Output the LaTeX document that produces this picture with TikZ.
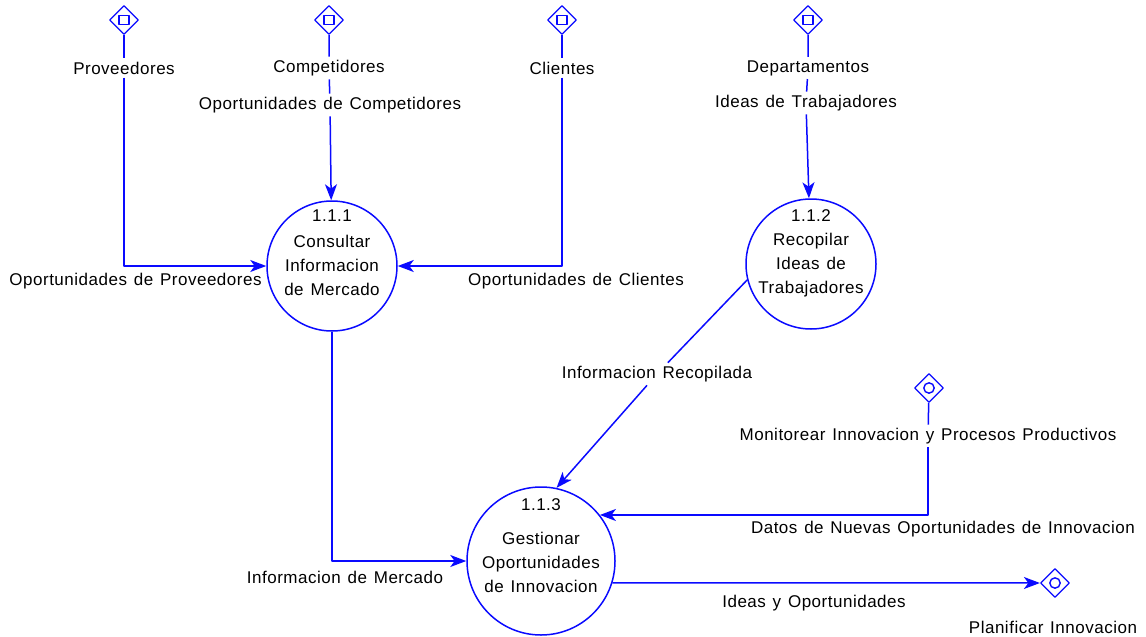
\documentclass[tikz,border=0pt]{standalone}
\usepackage{fontspec}
\setmainfont[WordSpace=1.3,LetterSpace=3]{Liberation Sans}
\usetikzlibrary{shapes.geometric,arrows.meta}
\definecolor{azul}{RGB}{10,10,255}
\begin{document}
\begin{tikzpicture}[x=0.5pt,y=-0.5pt,line join=round,
	font=\fontsize{8.5}{12}\selectfont,
	linea/.style={draw=azul,line width=0.75pt},
	flujo/.style={linea,-{Stealth[length=8pt,width=6pt,inset=2.2pt]}},
	proceso/.style={circle,draw=azul,line width=0.75pt,minimum size=65pt,inner sep=0pt},
	externo/.style={diamond,draw=azul,line width=0.6pt,minimum width=14.5pt,minimum height=14.5pt,inner sep=0pt},
	extcuadro/.style={externo,path picture={\draw[azul,line width=0.7pt] (path picture bounding box.center) ++(-2.5pt,-2.3pt) rectangle ++(5pt,4.6pt);}},
	extcirculo/.style={externo,path picture={\draw[azul,line width=0.7pt] (path picture bounding box.center) circle (2.6pt);}},
	etiq/.style={inner sep=1.5pt,align=center}]
	\useasboundingbox (0,0) rectangle (1146,637);
	\node[proceso] (p111) at (332,266) {};
	\node[proceso] (p112) at (811,264) {};
	\node[proceso,minimum size=74pt] (p113) at (541,561) {};
	\node[etiq] (n111) at (332,216) {1.1.1};
	\node[etiq] (t111) at (332,265) {Consultar\\Informacion\\de Mercado};
	\node[etiq] (n112) at (811,216) {1.1.2};
	\node[etiq] (t112) at (811,265) {Recopilar\\Ideas de\\Trabajadores};
	\node[etiq] (n113) at (541,505) {1.1.3};
	\node[etiq] (t113) at (541,562) {Gestionar\\Oportunidades\\de Innovacion};
	\node[extcuadro] (dProv) at (124,20) {};
	\node[extcuadro] (dComp) at (329,20) {};
	\node[extcuadro] (dCli) at (562,20) {};
	\node[extcuadro] (dDep) at (808,20) {};
	\node[extcirculo] (dMon) at (929,388) {};
	\node[extcirculo] (dPlan) at (1055,583) {};
	\node[etiq] (lProv) at (124,68) {Proveedores};
	\node[etiq] (lComp) at (329,68) {Competidores};
	\node[etiq] (lCli) at (562,68) {Clientes};
	\node[etiq] (lDep) at (808,68) {Departamentos};
	\node[etiq] (lMon) at (928,436) {Monitorear Innovacion y Procesos Productivos};
	\node[etiq] (lPlan) at (1053,627) {Planificar Innovacion};
	\node[etiq] (fComp) at (330,105) {Oportunidades de Competidores};
	\node[etiq] (fDep) at (806,103) {Ideas de Trabajadores};
	\node[etiq] (fRec) at (657,374) {Informacion Recopilada};
	\node[etiq,anchor=east] (fProv) at (265,281) {Oportunidades de Proveedores};
	\node[etiq] (fCli) at (576,281) {Oportunidades de Clientes};
	\node[etiq] (fMer) at (345,577) {Informacion de Mercado};
	\node[etiq] (fMon) at (943,529) {Datos de Nuevas Oportunidades de Innovacion};
	\node[etiq] (fIdeas) at (814,603) {Ideas y Oportunidades};
	\draw[linea] (dProv)--(lProv);
	\draw[linea] (dComp)--(lComp)--(fComp);
	\draw[linea] (dCli)--(lCli);
	\draw[linea] (dDep)--(lDep)--(fDep);
	\draw[linea] (dMon)--(lMon);
	\draw[flujo] (lProv) |- (p111);
	\draw[flujo] (fComp)--(p111);
	\draw[flujo] (lCli) |- (p111);
	\draw[flujo] (fDep)--(p112);
	\draw[linea] (p112.194)--(fRec);
	\draw[flujo] (fRec)--(p113.78);
	\draw[flujo] (p111) |- (p113);
	\draw[flujo] (lMon) |- (p113.38);
	\draw[flujo] (p113.-17)--(dPlan);
\end{tikzpicture}
\end{document}
